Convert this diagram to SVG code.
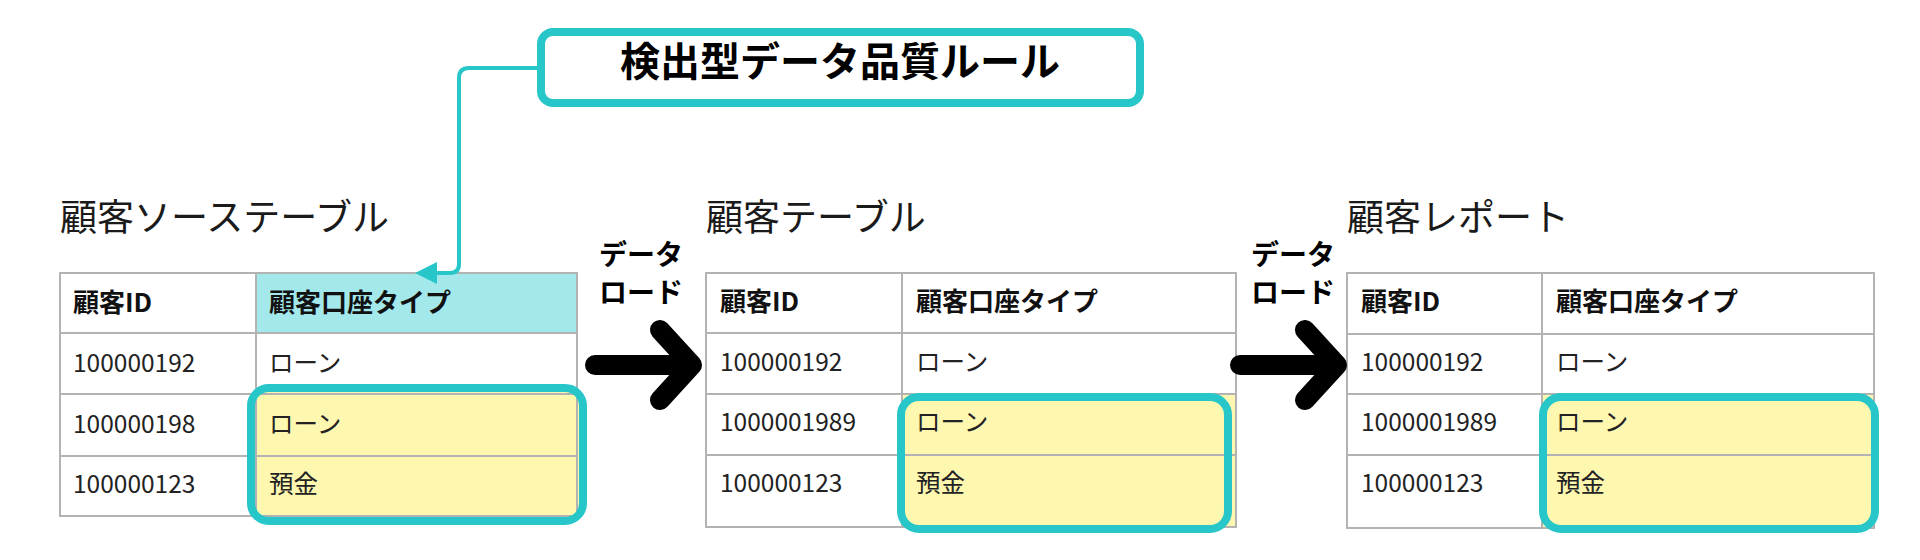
<svg xmlns="http://www.w3.org/2000/svg" width="1920" height="560" viewBox="0 0 1920 560">
<style>
text { font-family: "Noto Sans CJK JP", "Noto Sans", sans-serif; fill: #1a1a1a; }
.title { font-size: 37px; }
.rule { font-size: 40px; font-weight: bold; fill: #000; }
.lbl { font-size: 28px; font-weight: bold; fill: #000; }
.hd { font-size: 26px; font-weight: bold; fill: #111; }
.cell { font-size: 24.5px; fill: #222; }
.grid { fill: none; stroke: #b3b3b3; stroke-width: 2; }
.hl { fill: none; stroke: #26c6c9; stroke-width: 8; }
.yel { fill: #fdf7b0; }
.bigarrow { fill: none; stroke: #000; stroke-width: 20; stroke-linecap: round; stroke-linejoin: round; }
</style>
<defs>
<marker id="tealhead" viewBox="0 0 10 10" refX="0" refY="5" markerWidth="22" markerHeight="22" orient="auto" markerUnits="userSpaceOnUse">
<path d="M0 0 L10 5 L0 10 Z" fill="#26c6c9"/>
</marker>
</defs>
<rect width="1920" height="560" fill="#ffffff"/>

<g id="rule-box">
<rect x="541" y="32" width="599" height="71" rx="12" fill="#ffffff" stroke="#26c6c9" stroke-width="8"/>
<text class="rule" x="840" y="76" text-anchor="middle">検出型データ品質ルール</text>
</g>

<g id="table-source">
<text class="title" x="60" y="231">顧客ソーステーブル</text>
<rect x="256" y="273" width="321" height="60" fill="#a3e8eb"/>
<rect class="yel" x="251" y="388" width="332" height="133" rx="18"/>
<path class="grid" d="M60 273 H577 V516 H60 Z M256 273 V516 M60 333 H577 M60 394 H577 M60 456 H577"/>
<rect class="hl" x="251" y="388" width="332" height="133" rx="18"/>
<text class="hd" x="73" y="312">顧客ID</text>
<text class="hd" x="269" y="312">顧客口座タイプ</text>
<text class="cell" x="73" y="372">100000192</text>
<text class="cell" x="269" y="372">ローン</text>
<text class="cell" x="73" y="433">100000198</text>
<text class="cell" x="269" y="433">ローン</text>
<text class="cell" x="73" y="493">100000123</text>
<text class="cell" x="269" y="493">預金</text>
</g>

<g id="table-customer">
<text class="title" x="706" y="231">顧客テーブル</text>
<rect class="yel" x="902" y="394" width="334" height="133"/>
<rect class="yel" x="901" y="397" width="327" height="132" rx="18"/>
<path class="grid" d="M706 273 H1236 V527 H706 Z M902 273 V527 M706 333 H1236 M706 394 H1236 M706 455 H1236"/>
<rect class="hl" x="901" y="397" width="327" height="132" rx="18"/>
<text class="hd" x="720" y="311">顧客ID</text>
<text class="hd" x="916" y="311">顧客口座タイプ</text>
<text class="cell" x="720" y="371">100000192</text>
<text class="cell" x="916" y="371">ローン</text>
<text class="cell" x="720" y="431">1000001989</text>
<text class="cell" x="916" y="431">ローン</text>
<text class="cell" x="720" y="492">100000123</text>
<text class="cell" x="916" y="492">預金</text>
</g>

<g id="table-report">
<text class="title" x="1347" y="231">顧客レポート</text>
<rect class="yel" x="1542" y="394" width="332" height="134"/>
<rect class="yel" x="1543" y="397" width="332" height="132" rx="18"/>
<path class="grid" d="M1347 273 H1874 V528 H1347 Z M1542 273 V528 M1347 334 H1874 M1347 394 H1874 M1347 455 H1874"/>
<rect class="hl" x="1543" y="397" width="332" height="132" rx="18"/>
<text class="hd" x="1361" y="311">顧客ID</text>
<text class="hd" x="1556" y="311">顧客口座タイプ</text>
<text class="cell" x="1361" y="371">100000192</text>
<text class="cell" x="1556" y="371">ローン</text>
<text class="cell" x="1361" y="431">1000001989</text>
<text class="cell" x="1556" y="431">ローン</text>
<text class="cell" x="1361" y="492">100000123</text>
<text class="cell" x="1556" y="492">預金</text>
</g>

<g id="connectors">
<path d="M537 68 H469 Q459 68 459 78 V264 Q459 273 450 273 H437" fill="none" stroke="#26c6c9" stroke-width="4" marker-end="url(#tealhead)"/>
<g id="load-1">
<path class="bigarrow" d="M595 365 H690 M660 330 L692 365 L660 400"/>
<text class="lbl" x="599" y="265">データ</text>
<text class="lbl" x="599" y="303">ロード</text>
</g>
<g id="load-2">
<path class="bigarrow" d="M1240 365 H1335 M1305 330 L1337 365 L1305 400"/>
<text class="lbl" x="1251" y="265">データ</text>
<text class="lbl" x="1251" y="303">ロード</text>
</g>
</g>
</svg>
